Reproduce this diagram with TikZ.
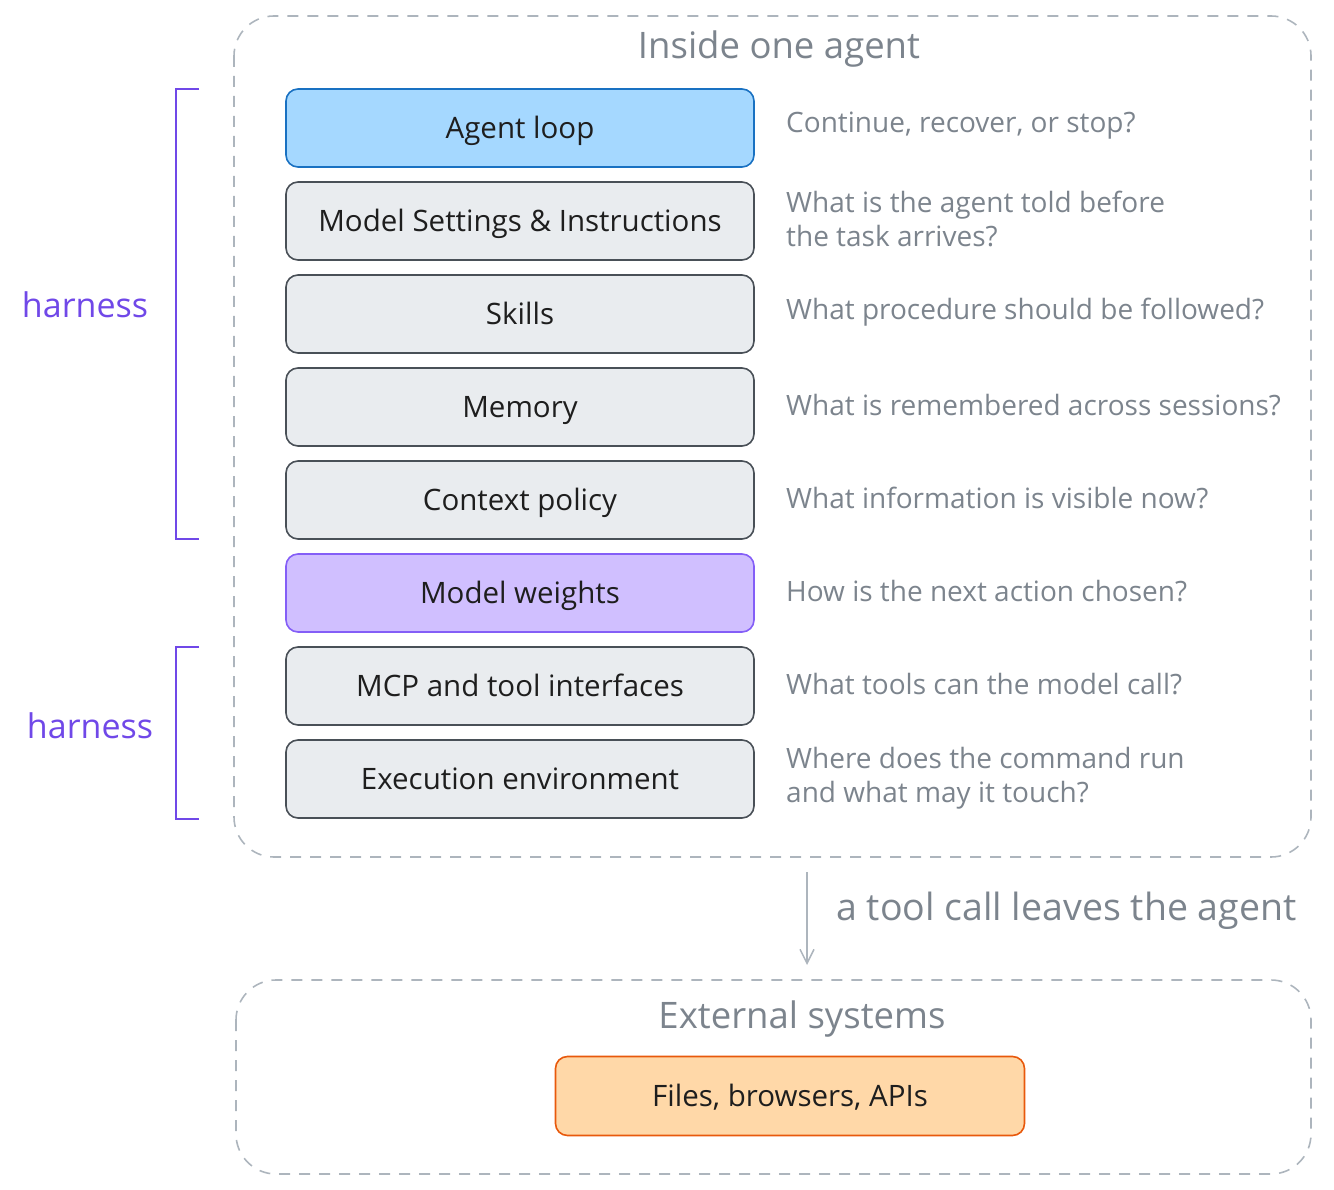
\documentclass[tikz,border=0pt]{standalone}
\usepackage{fontspec}
\setmainfont{Open Sans}
\usetikzlibrary{arrows.meta}
\definecolor{ink}{HTML}{1E1E1E}
\definecolor{muted}{HTML}{7C848D}
\definecolor{frame}{HTML}{ADB5BD}
\definecolor{boxfill}{HTML}{E9ECEF}
\definecolor{boxline}{HTML}{495057}
\definecolor{bluefill}{HTML}{A5D8FF}
\definecolor{blueline}{HTML}{1971C2}
\definecolor{violetfill}{HTML}{D0BFFF}
\definecolor{violetline}{HTML}{845EF7}
\definecolor{orangefill}{HTML}{FFD8A8}
\definecolor{orangeline}{HTML}{E8590C}
\definecolor{harnesscol}{HTML}{7048E8}
\tikzset{
  layer/.style={draw=boxline, fill=boxfill, line width=1.6pt, rounded corners=12pt,
    minimum width=468pt, minimum height=78pt, text=ink, inner sep=0pt,
    text height=21pt, text depth=0pt,
    font=\fontsize{29.5}{34}\selectfont},
  bluelayer/.style={layer, draw=blueline, fill=bluefill},
  violetlayer/.style={layer, draw=violetline, fill=violetfill},
  orangelayer/.style={layer, draw=orangeline, fill=orangefill, minimum width=469pt, minimum height=79pt},
  question/.style={anchor=west, text=muted, align=left, inner sep=0pt,
    font=\fontsize{28}{34}\selectfont},
  group/.style={draw=frame, line width=1.6pt, dash pattern=on 11pt off 9pt, rounded corners=40pt},
  grouptitle/.style={text=muted, inner sep=0pt, font=\fontsize{36.5}{40}\selectfont},
  harnesslabel/.style={text=harnesscol, inner sep=0pt, font=\fontsize{34}{38}\selectfont},
  bracketline/.style={draw=harnesscol, line width=1.5pt},
  flow/.style={draw=frame, line width=1.5pt, -{Straight Barb[length=14pt, width=14pt]}},
}
\begin{document}
\begin{tikzpicture}[x=1pt,y=-1pt]
\useasboundingbox (0,0) rectangle (1334,1190);

% outer groups
\draw[group] (234,16) rectangle (1311,857);
\draw[group] (236,980) rectangle (1311,1174);
\node[grouptitle] (insidetitle) at (779,49) {Inside one agent};
\node[grouptitle] (exttitle) at (802,1019) {External systems};

% layers
\node[bluelayer]   (loop)     at (520,128) {Agent loop};
\node[layer]       (settings) at (520,221) {Model Settings \& Instructions};
\node[layer]       (skills)   at (520,314) {Skills};
\node[layer]       (memory)   at (520,407) {Memory};
\node[layer]       (context)  at (520,500) {Context policy};
\node[violetlayer] (weights)  at (520,593) {Model weights};
\node[layer]       (mcp)      at (520,686) {MCP and tool interfaces};
\node[layer]       (exec)     at (520,779) {Execution environment};

% questions
\node[question] (q1) at (786,126) {Continue, recover, or stop?};
\node[question] (q2) at (786,219) {What is the agent told before\\the task arrives?};
\node[question] (q3) at (786,312) {What procedure should be followed?};
\node[question] (q4) at (786,405) {What is remembered across sessions?};
\node[question] (q5) at (786,498) {What information is visible now?};
\node[question] (q6) at (786,591) {How is the next action chosen?};
\node[question] (q7) at (786,684) {What tools can the model call?};
\node[question] (q8) at (786,778) {Where does the command run\\and what may it touch?};

% harness brackets
\coordinate (b1t) at (199,89);
\coordinate (b1b) at (199,539);
\draw[bracketline] (b1t) -- (176,89) -- (176,539) -- (b1b);
\node[harnesslabel] (h1) at (85,305) {harness};
\coordinate (b2t) at (199,647);
\coordinate (b2b) at (199,819);
\draw[bracketline] (b2t) -- (176,647) -- (176,819) -- (b2b);
\node[harnesslabel] (h2) at (90,726) {harness};

% tool call arrow
\coordinate (arrowstart) at (807,872);
\coordinate (arrowend) at (807,965);
\draw[flow] (arrowstart) -- (arrowend);
\node[text=muted, anchor=west, inner sep=0pt, font=\fontsize{37.5}{40}\selectfont] (toolcall) at (836,911) {a tool call leaves the agent};

% external
\node[orangelayer] (files) at (790,1096) {Files, browsers, APIs};
\end{tikzpicture}
\end{document}
